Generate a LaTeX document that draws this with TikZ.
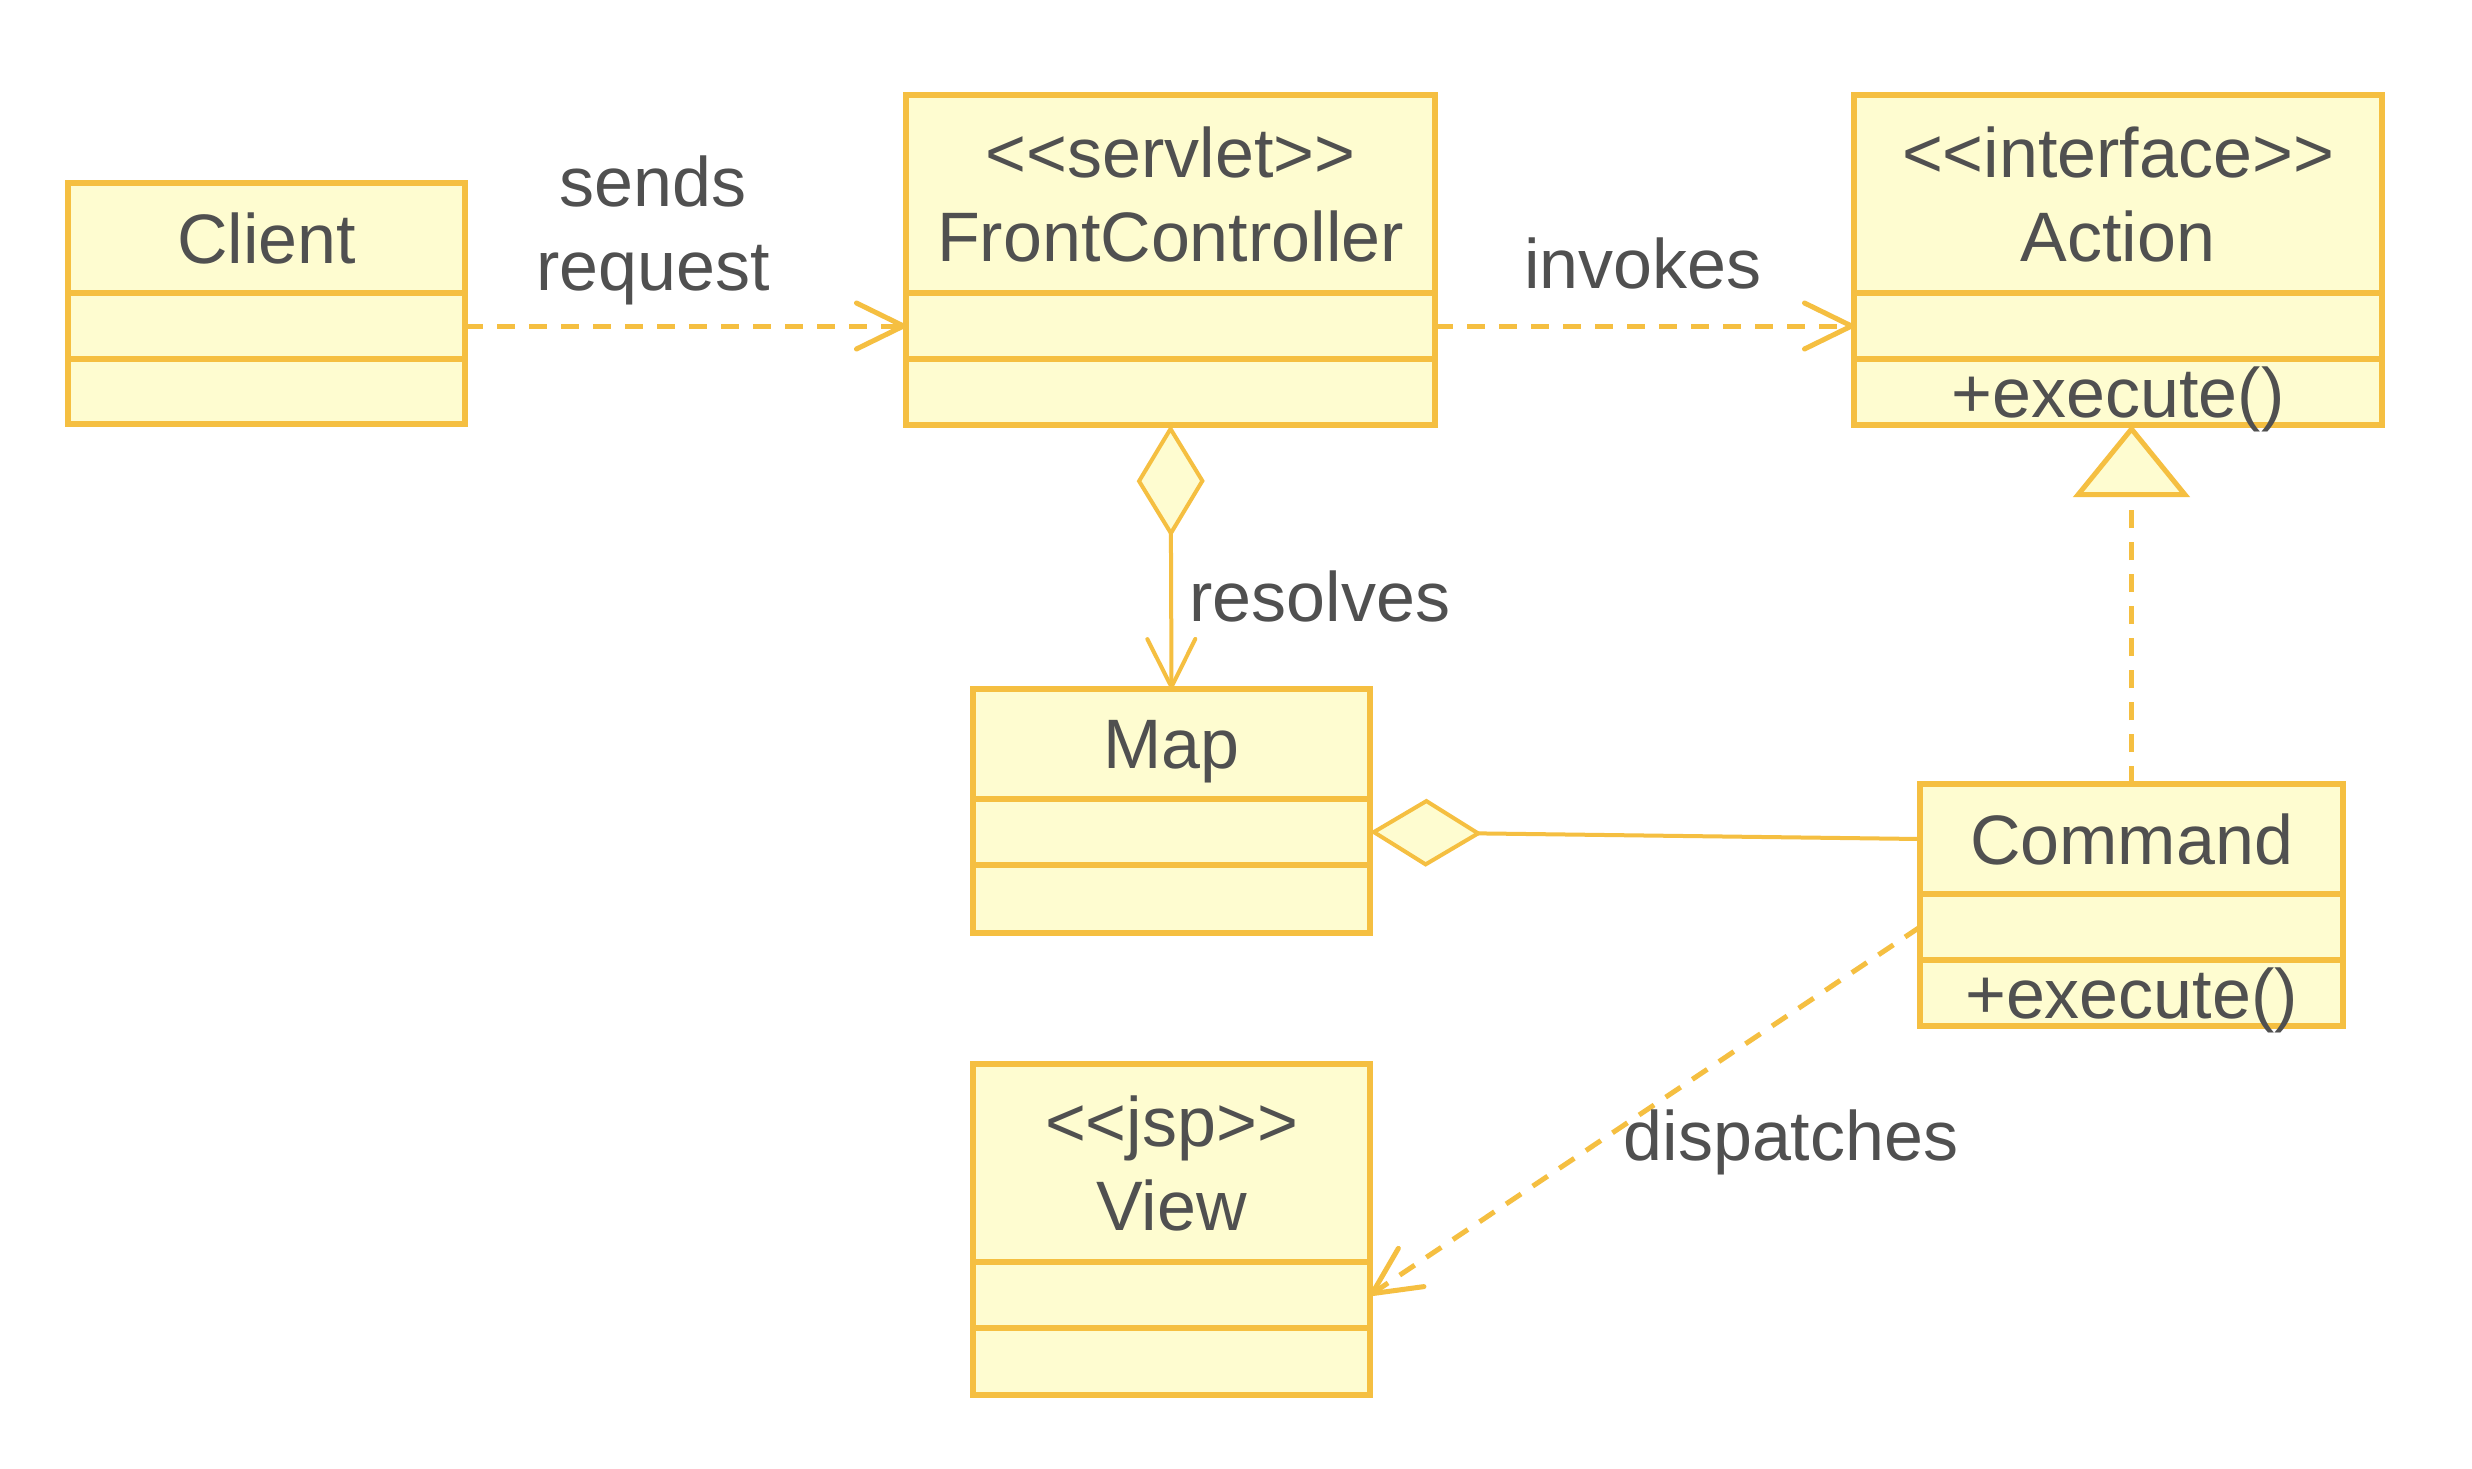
\documentclass[tikz,border=0pt]{standalone}
\usepackage{fontspec}
\setmainfont{Liberation Sans}
\usetikzlibrary{arrows.meta}
\definecolor{strokec}{HTML}{F5BF41}
\definecolor{fillc}{HTML}{FEFCD0}
\definecolor{textc}{HTML}{505050}
\newcommand\umlfont{\fontsize{35}{42}\selectfont}
\newcommand\stereo[1]{<\kern0pt<#1>\kern0pt>}
\begin{document}
\begin{tikzpicture}[x=0.5pt,y=-0.5pt,
  cls/.style={draw=strokec, fill=fillc, line width=2.6pt, inner sep=0pt, outer sep=0pt,
              anchor=north west, text=textc, align=center, font=\umlfont},
  lbl/.style={text=textc, align=center, font=\umlfont, inner sep=0pt},
  openhead/.style={-{Straight Barb[length=23.5pt, width=23pt, round]}},
  dep/.style={draw=strokec, line width=2.5pt, dash pattern=on 9pt off 7pt, openhead},
  assoc/.style={draw=strokec, line width=2pt},
  realize/.style={draw=strokec, line width=2.5pt, dash pattern=on 9pt off 7pt,
                  -{Triangle[length=36pt, width=58pt, fill=fillc]}},
  aggr/.style={{Diamond[length=56pt, width=34pt, fill=fillc]}-}
]
\fill[white] (0,0) rectangle (2472,1468);
\useasboundingbox (0,0) rectangle (2472,1468);

% Client
\node[cls, minimum width=198.5pt, minimum height=55pt] (client) at (68,183) {Client};
\node[cls, minimum width=198.5pt, minimum height=33pt] (client-a) at (68,293) {};
\node[cls, minimum width=198.5pt, minimum height=32.5pt] (client-o) at (68,359) {};

% FrontController
\node[cls, minimum width=264.5pt, minimum height=99pt] (fc) at (906,95) {\stereo{servlet}\\FrontController};
\node[cls, minimum width=264.5pt, minimum height=33pt] (fc-a) at (906,293) {};
\node[cls, minimum width=264.5pt, minimum height=33pt] (fc-o) at (906,359) {};

% Action
\node[cls, minimum width=264pt, minimum height=99pt] (action) at (1854,95) {\stereo{interface}\\Action};
\node[cls, minimum width=264pt, minimum height=33pt] (action-a) at (1854,293) {};
\node[cls, minimum width=264pt, minimum height=33pt, text depth=0pt] (action-o) at (1854,359) {+execute()};

% Map
\node[cls, minimum width=198.5pt, minimum height=55pt, text depth=0pt] (map) at (973,689) {Map};
\node[cls, minimum width=198.5pt, minimum height=33pt] (map-a) at (973,799) {};
\node[cls, minimum width=198.5pt, minimum height=34pt] (map-o) at (973,865) {};

% Command
\node[cls, minimum width=211.5pt, minimum height=55pt] (cmd) at (1920,784) {Command};
\node[cls, minimum width=211.5pt, minimum height=33pt] (cmd-a) at (1920,894) {};
\node[cls, minimum width=211.5pt, minimum height=33pt, text depth=0pt] (cmd-o) at (1920,960) {+execute()};

% View
\node[cls, minimum width=198.5pt, minimum height=99pt] (view) at (973,1064) {\stereo{jsp}\\View};
\node[cls, minimum width=198.5pt, minimum height=33pt] (view-a) at (973,1262) {};
\node[cls, minimum width=198.5pt, minimum height=33.5pt] (view-o) at (973,1328) {};

% connectors
\draw[dep] (client-a.east) -- (fc-a.west);
\draw[dep] (fc-a.east) -- (action-a.west);
\draw[assoc, {Diamond[length=56pt, width=34pt, fill=fillc]}-{Straight Barb[length=24pt, width=24pt, round]}] (fc-o.south) -- (map.north);
\draw[assoc, aggr] (map-a.east) -- (cmd.west);
\draw[realize] (cmd.north) -- (cmd.north |- action-o.south);
\draw[dep] (cmd-a.west) -- (view-a.east);

% labels
\node[lbl] (l-sends) at (653,230) {sends\\request};
\node[lbl] (l-invokes) at (1643,263) {invokes};
\node[lbl, anchor=west] (l-resolves) at (1189,596) {resolves};
\node[lbl] (l-dispatches) at (1791,1142) {dispatches};
\end{tikzpicture}
\end{document}
